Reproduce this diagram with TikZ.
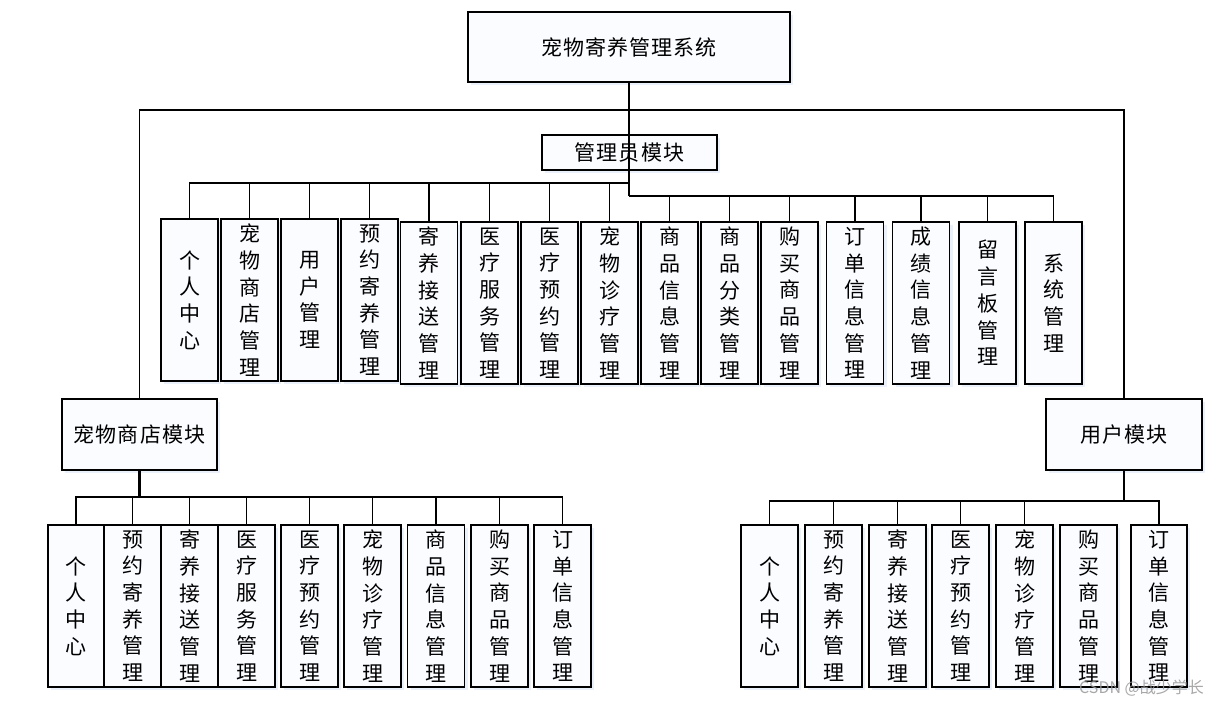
\documentclass[tikz,border=0pt]{standalone}
\usepackage{fontspec}
\setmainfont{Noto Sans CJK SC}
\newfontfamily\hfont{Noto Sans CJK SC}[LetterSpace=5]
\usetikzlibrary{shadows}
\definecolor{boxfill}{RGB}{251,252,255}
\definecolor{shadowc}{RGB}{200,215,245}
\begin{document}
\begin{tikzpicture}[x=1pt,y=-1pt,
  box/.style={draw, line width=1.5pt, fill=boxfill, inner sep=0pt, align=center,
    drop shadow={shadow xshift=3pt, shadow yshift=-3pt, opacity=0.35, fill=shadowc}},
  vbox/.style={box, minimum width=57pt, minimum height=162pt, font=\fontsize{21}{26.7}\selectfont},
  hbox/.style={box, font=\hfont\fontsize{21}{24}\selectfont},
  conn/.style={line width=1.5pt},
  trunk/.style={line width=2.6pt}]
\useasboundingbox (0,0) rectangle (1218,705);
\fill[white] (0,0) rectangle (1218,705);

% top and module boxes
\node[hbox, minimum width=322pt, minimum height=70pt] (top) at (629,47) {宠物寄养管理系统};
\node[hbox, minimum width=175pt, minimum height=35pt] (admin) at (629.5,152.5) {管理员模块};
\node[hbox, minimum width=155pt, minimum height=71pt] (shop) at (139.5,434.5) {宠物商店模块};
\node[hbox, minimum width=156pt, minimum height=71pt] (user) at (1124,434.5) {用户模块};

% admin sub-boxes
\node[vbox] (a1) at (189.5,300) {个\\人\\中\\心};
\node[vbox] (a2) at (249.5,300) {宠\\物\\商\\店\\管\\理};
\node[vbox] (a3) at (309.5,300) {用\\户\\管\\理};
\node[vbox] (a4) at (369.5,300) {预\\约\\寄\\养\\管\\理};
\node[vbox] (a5) at (429,303) {寄\\养\\接\\送\\管\\理};
\node[vbox] (a6) at (489.5,303) {医\\疗\\服\\务\\管\\理};
\node[vbox] (a7) at (549.5,303) {医\\疗\\预\\约\\管\\理};
\node[vbox] (a8) at (609.5,303) {宠\\物\\诊\\疗\\管\\理};
\node[vbox] (a9) at (669.5,303) {商\\品\\信\\息\\管\\理};
\node[vbox] (a10) at (729.5,303) {商\\品\\分\\类\\管\\理};
\node[vbox] (a11) at (789.5,303) {购\\买\\商\\品\\管\\理};
\node[vbox] (a12) at (855,303) {订\\单\\信\\息\\管\\理};
\node[vbox] (a13) at (921,303) {成\\绩\\信\\息\\管\\理};
\node[vbox] (a14) at (987.5,303) {留\\言\\板\\管\\理};
\node[vbox] (a15) at (1053.5,303) {系\\统\\管\\理};

% shop sub-boxes
\node[vbox, minimum width=56pt] (s1) at (76,606) {个\\人\\中\\心};
\node[vbox] (s2) at (132.5,606) {预\\约\\寄\\养\\管\\理};
\node[vbox] (s3) at (189.5,606) {寄\\养\\接\\送\\管\\理};
\node[vbox] (s4) at (246.5,606) {医\\疗\\服\\务\\管\\理};
\node[vbox] (s5) at (309.5,606) {医\\疗\\预\\约\\管\\理};
\node[vbox] (s6) at (372.5,606) {宠\\物\\诊\\疗\\管\\理};
\node[vbox] (s7) at (436,606) {商\\品\\信\\息\\管\\理};
\node[vbox] (s8) at (499.5,606) {购\\买\\商\\品\\管\\理};
\node[vbox] (s9) at (562.5,606) {订\\单\\信\\息\\管\\理};

% user sub-boxes
\node[vbox] (u1) at (769.5,606) {个\\人\\中\\心};
\node[vbox] (u2) at (833.5,606) {预\\约\\寄\\养\\管\\理};
\node[vbox] (u3) at (897.5,606) {寄\\养\\接\\送\\管\\理};
\node[vbox] (u4) at (960.5,606) {医\\疗\\预\\约\\管\\理};
\node[vbox] (u5) at (1024.5,606) {宠\\物\\诊\\疗\\管\\理};
\node[vbox] (u6) at (1088.5,606) {购\\买\\商\\品\\管\\理};
\node[vbox, minimum width=56pt] (u7) at (1159,606) {订\\单\\信\\息\\管\\理};

% junctions
\coordinate (jtop) at (629,110);
\coordinate (abL) at (629,183);
\coordinate (abR) at (629,196);
\coordinate (sb) at (139.5,497);
\coordinate (ub) at (1124,501);

% connectors
\draw[line width=2.2pt] (top.south) -- (jtop);
\draw[conn] (jtop) -- (abR);
\draw[conn] (jtop) -| (shop.north);
\draw[conn] (jtop) -| (user.north);
\foreach \k in {1,...,8} \draw[conn] (abL) -| (a\k.north);
\foreach \k in {9,...,15} \draw[conn] (abR) -| (a\k.north);
\draw[trunk] (shop.south) -- (sb);
\foreach \k in {1,...,9} \draw[conn] (sb) -| (s\k.north);
\draw[trunk] (user.south) -- (ub);
\foreach \k in {1,2,3,4,5,7} \draw[conn] (ub) -| (u\k.north);

% watermark
\node[text=black!40, opacity=0.85, font=\fontsize{16}{16}\selectfont, anchor=east, inner sep=0pt] (wm) at (1204,688) {CSDN @战少学长};
\end{tikzpicture}
\end{document}
